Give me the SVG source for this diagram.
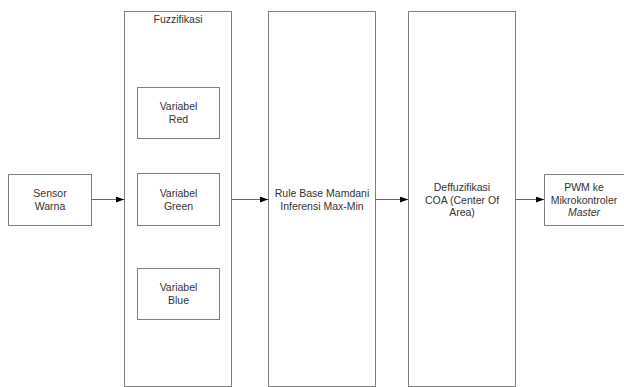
<svg xmlns="http://www.w3.org/2000/svg" width="624" height="387" viewBox="0 0 624 387">
<defs>
<style>
.box{fill:#fff;stroke:#808080;stroke-width:1}
.t{font-family:"Liberation Sans",Arial,sans-serif;font-size:10.5px;fill:#333;text-anchor:middle}
.c{stroke:#666;stroke-width:1;fill:none;marker-end:url(#ah)}
</style>
<marker id="ah" viewBox="0 0 8 6" refX="8" refY="3" markerWidth="8" markerHeight="6" markerUnits="userSpaceOnUse" orient="auto">
<path d="M0,0 L8,3 L0,6 Z" fill="#000"/>
</marker>
</defs>
<rect width="624" height="387" fill="#fff"/>
<g id="fuzzifikasi">
<rect class="box" x="124.5" y="11.5" width="107" height="375"/>
<text class="t" x="178" y="23">Fuzzifikasi</text>
</g>
<g id="variabel-red">
<rect class="box" x="137.5" y="87.5" width="82" height="51"/>
<text class="t" x="178.5" y="110">Variabel</text>
<text class="t" x="178.5" y="122.5">Red</text>
</g>
<g id="variabel-green">
<rect class="box" x="137.5" y="173.5" width="82" height="52"/>
<text class="t" x="178.5" y="197">Variabel</text>
<text class="t" x="178.5" y="209.5">Green</text>
</g>
<g id="variabel-blue">
<rect class="box" x="137.5" y="268.5" width="82" height="51"/>
<text class="t" x="178.5" y="291">Variabel</text>
<text class="t" x="178.5" y="303.5">Blue</text>
</g>
<g id="sensor-warna">
<rect class="box" x="8.5" y="174.5" width="83" height="51"/>
<text class="t" x="50" y="197">Sensor</text>
<text class="t" x="50" y="209.5">Warna</text>
</g>
<g id="rule-base">
<rect class="box" x="268.5" y="11.5" width="107" height="375"/>
<text class="t" x="322" y="197">Rule Base Mamdani</text>
<text class="t" x="322" y="209.5">Inferensi Max-Min</text>
</g>
<g id="deffuzifikasi">
<rect class="box" x="408.5" y="11.5" width="107" height="375"/>
<text class="t" x="462" y="191">Deffuzifikasi</text>
<text class="t" x="462" y="203.5">COA (Center Of</text>
<text class="t" x="462" y="216">Area)</text>
</g>
<g id="pwm">
<rect class="box" x="544.5" y="174.5" width="82" height="51"/>
<text class="t" x="584" y="191">PWM ke</text>
<text class="t" x="584" y="203.5">Mikrokontroler</text>
<text class="t" x="584" y="216" font-style="italic">Master</text>
</g>
<g id="connectors">
<line class="c" x1="91.5" y1="199.5" x2="124" y2="199.5"/>
<line class="c" x1="231.5" y1="199.5" x2="268" y2="199.5"/>
<line class="c" x1="375.5" y1="199.5" x2="408" y2="199.5"/>
<line class="c" x1="515.5" y1="199.5" x2="544" y2="199.5"/>
</g>
</svg>
